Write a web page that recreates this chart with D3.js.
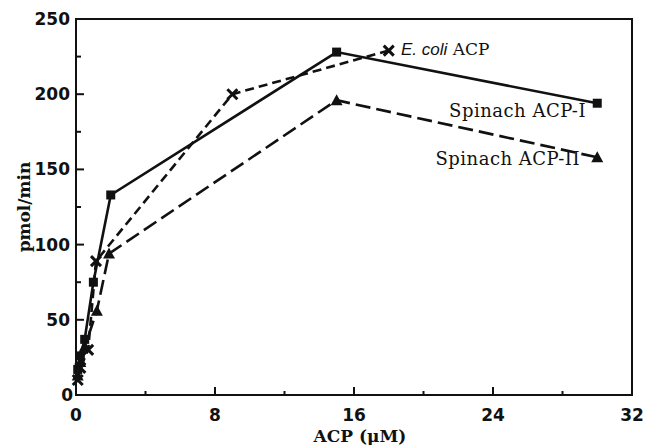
<!DOCTYPE html>
<html><head><meta charset="utf-8">
<script src="https://cdn.jsdelivr.net/npm/d3@7"></script>
<style>body{margin:0;background:#fff}svg{display:block}</style>
</head><body><svg id="c" width="652" height="445"></svg>
<script>
// Data
const acp1X = [0.1, 0.25, 0.5, 1, 2, 15, 30];
const acp1Y = [17, 26, 37, 75, 133, 228, 194];
const ecoliX = [0.1, 0.25, 0.7, 1.15, 9, 18];
const ecoliY = [10, 18, 30, 89, 200, 229];
const acp2X = [0.1, 0.25, 0.5, 1.2, 1.9, 15, 30];
const acp2Y = [13, 22, 32, 56, 94, 196, 158];
const xTicks = [0, 8, 16, 24, 32];
const yTicks = [0, 50, 100, 150, 200, 250];

const svg = d3.select("#c");
const x = d3.scaleLinear().domain([0, 32]).range([76, 632]);
const y = d3.scaleLinear().domain([0, 250]).range([395, 19]);

const ink = "#111";
// frame
svg.append("rect").attr("x", x(0)).attr("y", y(250)).attr("width", x(32) - x(0)).attr("height", y(0) - y(250))
  .attr("fill", "none").attr("stroke", ink).attr("stroke-width", 2);

// x ticks (inward)
const xAll = d3.range(0, 33, 4);
svg.append("g").selectAll("line").data(xAll).join("line")
  .attr("x1", d => x(d)).attr("x2", d => x(d))
  .attr("y1", y(0)).attr("y2", d => y(0) - (d % 8 === 0 ? 8 : 4))
  .attr("stroke", ink).attr("stroke-width", 2);
// y ticks (inward)
const yAll = d3.range(0, 251, 25);
svg.append("g").selectAll("line").data(yAll).join("line")
  .attr("y1", d => y(d)).attr("y2", d => y(d))
  .attr("x1", x(0)).attr("x2", d => x(0) + (d % 50 === 0 ? 8 : 5))
  .attr("stroke", ink).attr("stroke-width", 2);

const tickFont = "'DejaVu Sans', sans-serif";
svg.append("g").selectAll("text").data(xTicks).join("text")
  .attr("x", d => x(d)).attr("y", 421).attr("text-anchor", "middle")
  .attr("font-family", tickFont).attr("font-weight", "bold").attr("font-size", 17).attr("fill", ink)
  .text(d => d);
svg.append("g").selectAll("text").data(yTicks).join("text")
  .attr("x", d => d === 0 ? 73 : 70).attr("y", d => y(d) + 6).attr("text-anchor", "end")
  .attr("font-family", tickFont).attr("font-weight", "bold").attr("font-size", 17).attr("fill", ink)
  .text(d => d);

const serif = "'DejaVu Serif', serif";
svg.append("text").attr("x", 360).attr("y", 442).attr("text-anchor", "middle")
  .attr("font-family", serif).attr("font-size", 17).attr("font-weight", "bold").attr("fill", ink)
  .text("ACP (μM)");
svg.append("text").attr("transform", "translate(30,207) rotate(-90)").attr("text-anchor", "middle")
  .attr("font-family", serif).attr("font-size", 17).attr("font-weight", "bold").attr("fill", ink)
  .text("pmol/min");

const line = d3.line().x(d => x(d[0])).y(d => y(d[1]));
const zip = (a, b) => a.map((v, i) => [v, b[i]]);
const s1 = zip(acp1X, acp1Y), s2 = zip(acp2X, acp2Y), se = zip(ecoliX, ecoliY);

svg.append("path").attr("d", line(s2)).attr("fill", "none").attr("stroke", ink).attr("stroke-width", 2.6).attr("stroke-dasharray", "15,6");
svg.append("path").attr("d", line(se)).attr("fill", "none").attr("stroke", ink).attr("stroke-width", 2.6).attr("stroke-dasharray", "9,5");
svg.append("path").attr("d", line(s1)).attr("fill", "none").attr("stroke", ink).attr("stroke-width", 2.6);

// markers
svg.append("g").selectAll("rect").data(s1).join("rect")
  .attr("x", d => x(d[0]) - 4.5).attr("y", d => y(d[1]) - 4.5).attr("width", 9).attr("height", 9).attr("fill", ink);
svg.append("g").selectAll("path").data(s2).join("path")
  .attr("d", d => `M${x(d[0])},${y(d[1]) - 6}L${x(d[0]) + 6},${y(d[1]) + 5}L${x(d[0]) - 6},${y(d[1]) + 5}Z`).attr("fill", ink);
svg.append("g").selectAll("path").data(se).join("path")
  .attr("d", d => { const cx = x(d[0]), cy = y(d[1]), r = 5; return `M${cx - r},${cy - r}L${cx + r},${cy + r}M${cx + r},${cy - r}L${cx - r},${cy + r}`; })
  .attr("stroke", ink).attr("stroke-width", 3);

// labels
const t = svg.append("text").attr("x", 401).attr("y", 55).attr("font-size", 17).attr("fill", ink);
t.append("tspan").attr("font-family", "'Liberation Sans', sans-serif").attr("font-style", "italic").text("E. coli");
t.append("tspan").attr("font-family", serif).text(" ACP");
svg.append("text").attr("x", 586).attr("y", 117).attr("text-anchor", "end").attr("font-family", serif).attr("font-size", 18).attr("letter-spacing", 0.5).attr("fill", ink).text("Spinach ACP-I");
svg.append("text").attr("x", 580).attr("y", 165).attr("text-anchor", "end").attr("font-family", serif).attr("font-size", 18).attr("letter-spacing", 0.5).attr("fill", ink).text("Spinach ACP-II");
</script></body></html>
